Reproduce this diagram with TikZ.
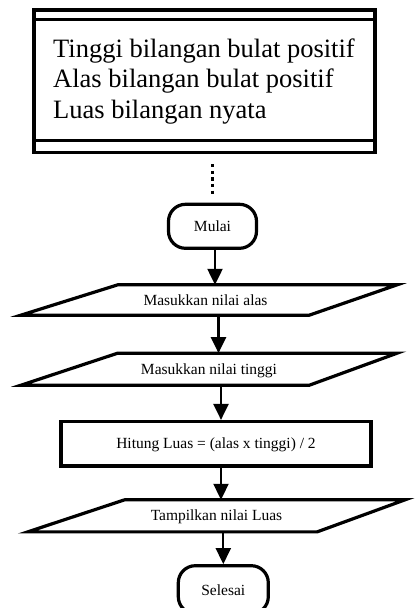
\documentclass[tikz,border=0pt]{standalone}
\usepackage{fontspec}
\setmainfont{Liberation Serif}
\usetikzlibrary{arrows.meta,calc}

\newcommand{\bigtxt}{\fontsize{26.5pt}{30pt}\selectfont}
\newcommand{\smalltxt}{\fontsize{15.5pt}{18pt}\selectfont}

\begin{document}
\begin{tikzpicture}[x=1pt,y=-1pt,
  outline/.style={line width=3.2pt, line join=miter},
  decl/.style={draw, line width=3.3pt, minimum width=341pt, minimum height=142.5pt, inner sep=0pt},
  decltext/.style={anchor=base west, inner sep=0pt, font=\bigtxt},
  terminal/.style={draw, line width=3.2pt, rounded corners=17pt, minimum width=88pt,
    minimum height=44pt, inner sep=0pt, font=\smalltxt, text height=11pt, text depth=1pt},
  process/.style={draw, line width=3.2pt, minimum width=310pt, minimum height=44.5pt,
    inner sep=0pt, font=\smalltxt, text height=11pt, text depth=1pt},
  iobox/.style={minimum width=376pt, inner sep=0pt, font=\smalltxt, text height=11pt, text depth=1pt},
  arr/.style={line width=2.3pt, -{Triangle[width=15pt,length=16pt]}},
  dots/.style={line width=3.3pt, dash pattern=on 3.3pt off 3.3pt}
]
\useasboundingbox (0,0) rectangle (416,608);

% declaration block with its two divider lines
\node[decl] (decl) at (204.5,81.25) {};
\draw[outline] ([yshift=-11pt]decl.north west) -- ([yshift=-11pt]decl.north east);
\draw[outline] ([yshift=14pt]decl.south west) -- ([yshift=14pt]decl.south east);
\node[decltext] (d1) at (53,57) {Tinggi bilangan bulat positif};
\node[decltext] (d2) at (53,87.7) {Alas bilangan bulat positif};
\node[decltext] (d3) at (53,118.3) {Luas bilangan nyata};

% flowchart nodes
\node[terminal] (mulai) at (212.5,226.3) {Mulai};
\node[iobox, minimum height=30pt] (in1) at (209,300) {\hspace*{-7pt}Masukkan nilai alas};
\node[iobox, minimum height=31.7pt] (in2) at (209,369.2) {Masukkan nilai tinggi};
\node[process] (hitung) at (216,443.75) {Hitung Luas = (alas x tinggi) / 2};
\node[iobox, minimum width=377pt, minimum height=31.7pt] (out) at (216.5,515.8) {Tampilkan nilai Luas};
\node[terminal, minimum width=90pt, minimum height=48pt, text depth=-3pt] (selesai) at (223.3,589.7) {Selesai};

% parallelogram outlines for input/output
\foreach \n in {in1,in2,out}{
  \draw[outline] ($(\n.north west)+(97,0)$) -- (\n.north east)
    -- ($(\n.south east)+(-88,0)$) -- (\n.south west) -- cycle;
}

% connectors
\draw[dots] ($(mulai.north |- decl.south)+(0,10)$) -- ($(mulai.north)+(0,-6)$);
\draw[arr] ([xshift=2.5pt]mulai.south) -- ([xshift=2.5pt]mulai.south |- in1.north);
\draw[arr] ([xshift=9.5pt]in1.south) -- ([xshift=9.5pt]in1.south |- in2.north);
\draw[arr] ([xshift=12pt]in2.south) -- ([xshift=12pt]in2.south |- hitung.north);
\draw[arr] ([xshift=5pt]hitung.south) -- ([xshift=5pt]hitung.south |- out.north);
\draw[arr] ([xshift=6.8pt]out.south) -- ([xshift=6.8pt]out.south |- selesai.north);
\end{tikzpicture}
\end{document}
